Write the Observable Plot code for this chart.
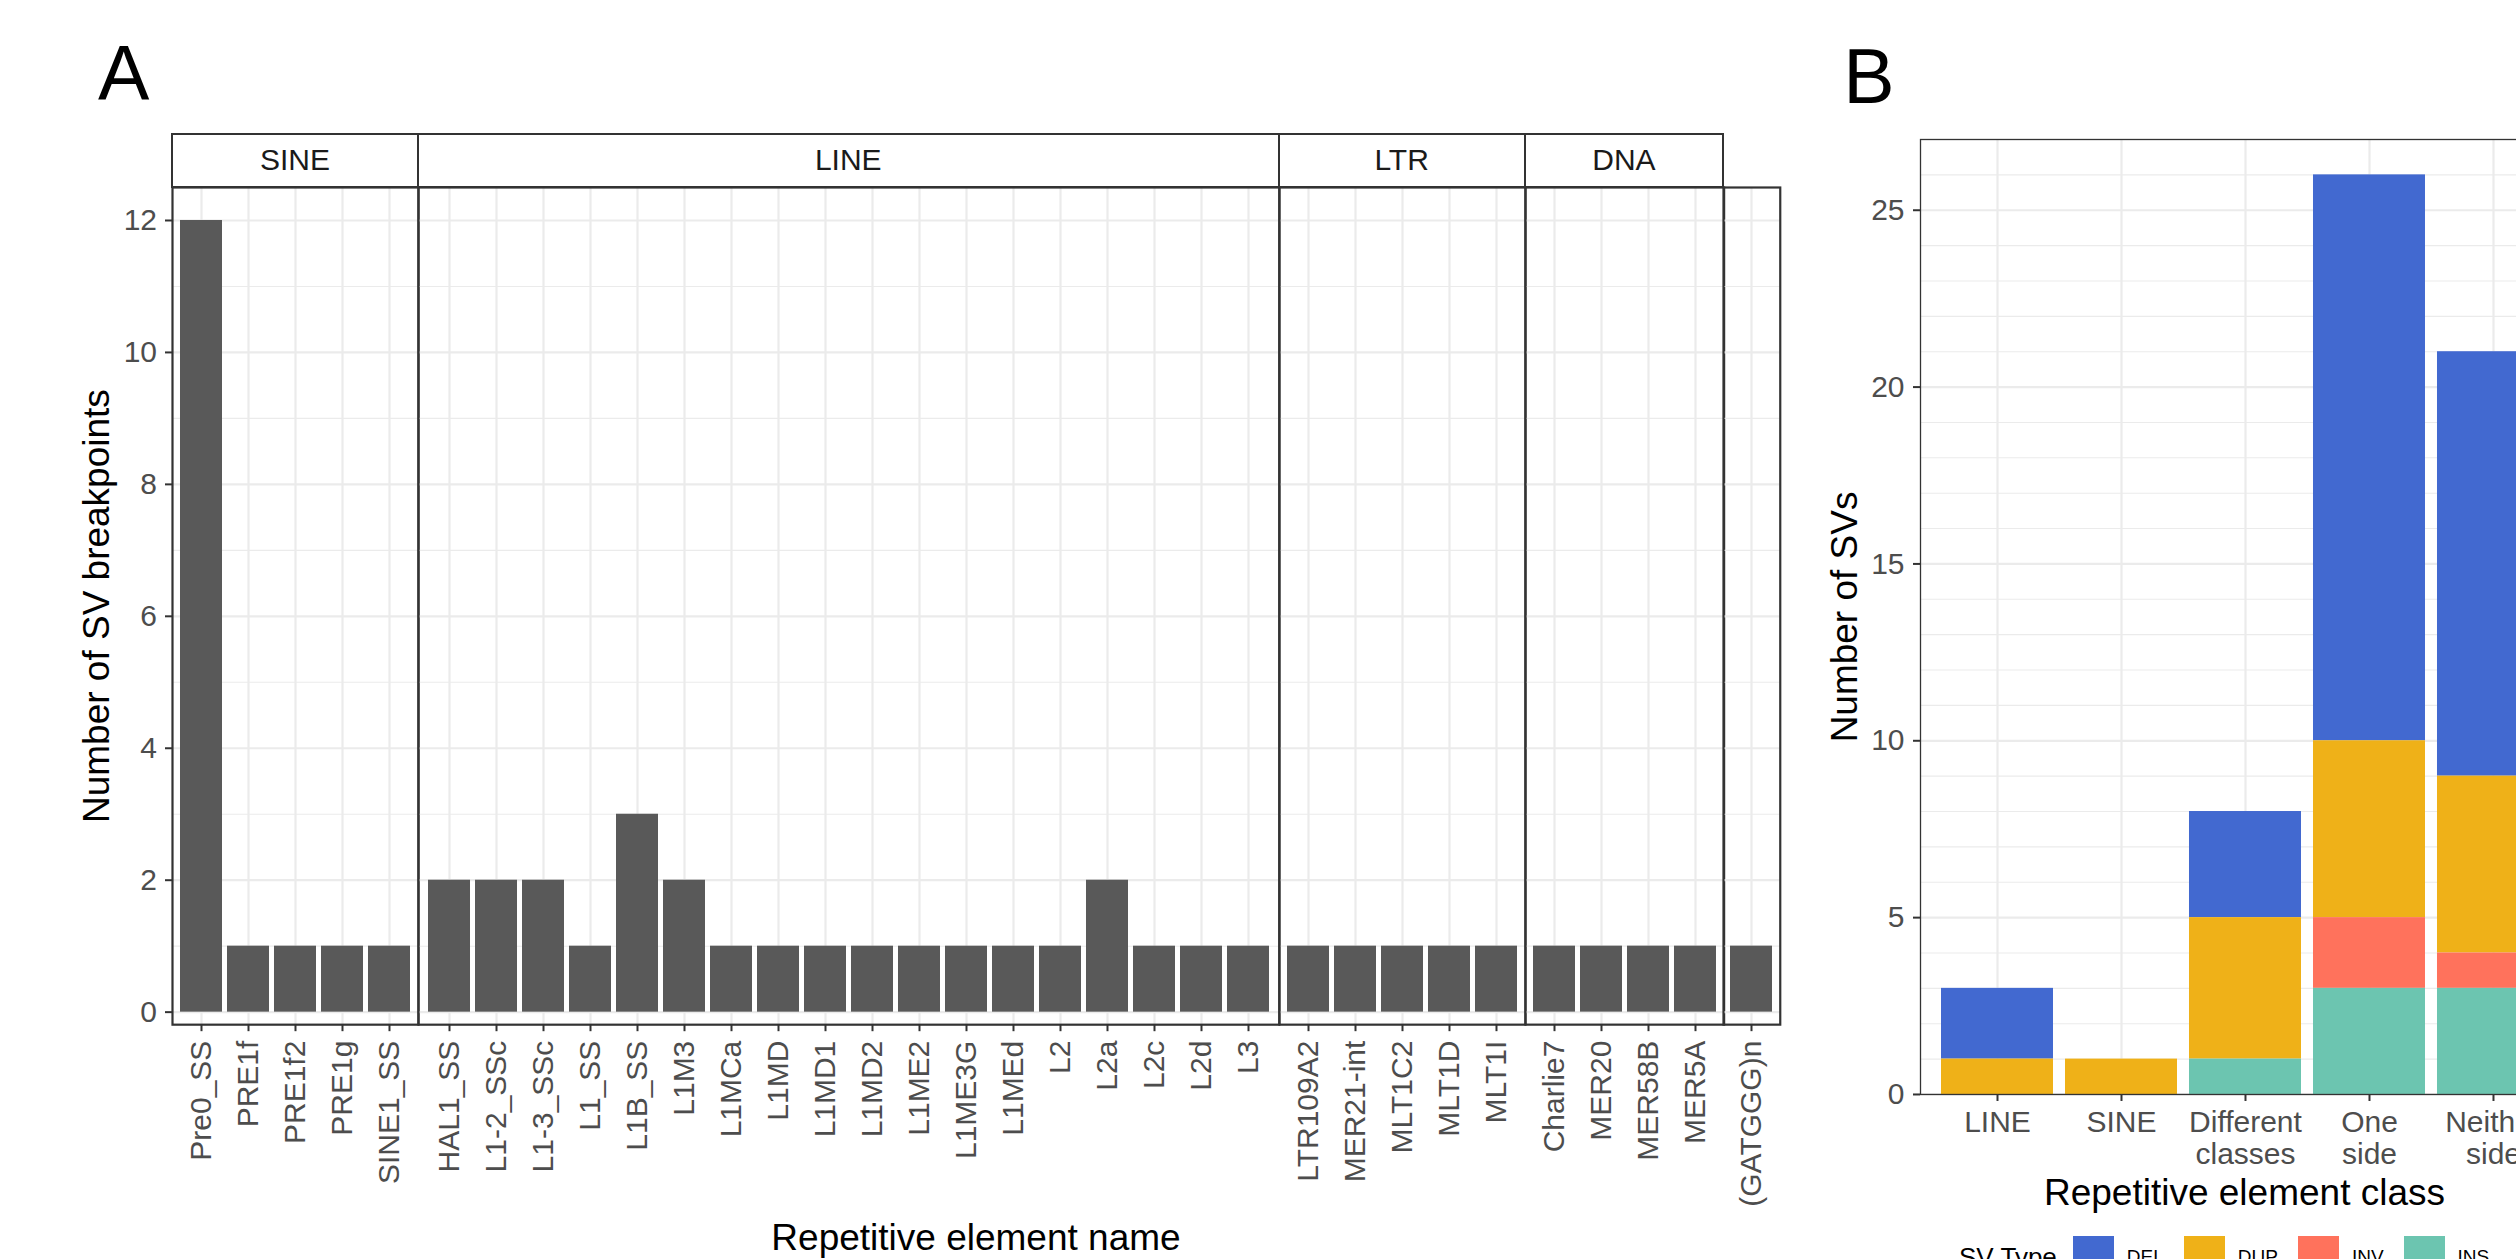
<!DOCTYPE html>
<html>
<head>
<meta charset="utf-8">
<script src="https://cdn.jsdelivr.net/npm/d3@7"></script>
<script src="https://cdn.jsdelivr.net/npm/@observablehq/plot@0.6"></script>
<style>
html, body { margin: 0; padding: 0; background: #ffffff; }
#root { position: relative; width: 2516px; height: 1259px; overflow: hidden; background: #ffffff;
  font-family: "Liberation Sans", Arial, Helvetica, sans-serif; }
.abs { position: absolute; white-space: nowrap; }
</style>
</head>
<body>
<div id="root"></div>
<script>
// ---------------- Panel A data ----------------
const facetClasses = ["SINE", "LINE", "LTR", "DNA", ""];
const elementNames = [
  "Pre0_SS", "PRE1f", "PRE1f2", "PRE1g", "SINE1_SS",
  "HAL1_SS", "L1-2_SSc", "L1-3_SSc", "L1_SS", "L1B_SS", "L1M3", "L1MCa", "L1MD", "L1MD1", "L1MD2",
  "L1ME2", "L1ME3G", "L1MEd", "L2", "L2a", "L2c", "L2d", "L3",
  "LTR109A2", "MER21-int", "MLT1C2", "MLT1D", "MLT1I",
  "Charlie7", "MER20", "MER58B", "MER5A",
  "(GATGGG)n"
];
const elementClass = [
  "SINE", "SINE", "SINE", "SINE", "SINE",
  "LINE", "LINE", "LINE", "LINE", "LINE", "LINE", "LINE", "LINE", "LINE", "LINE",
  "LINE", "LINE", "LINE", "LINE", "LINE", "LINE", "LINE", "LINE",
  "LTR", "LTR", "LTR", "LTR", "LTR",
  "DNA", "DNA", "DNA", "DNA",
  ""
];
const breakpoints = [
  12, 1, 1, 1, 1,
  2, 2, 2, 1, 3, 2, 1, 1, 1, 1,
  1, 1, 1, 1, 2, 1, 1, 1,
  1, 1, 1, 1, 1,
  1, 1, 1, 1,
  1
];
const yTicksA = [0, 2, 4, 6, 8, 10, 12];
const yMinorA = [1, 3, 5, 7, 9, 11];
const yTitleA = "Number of SV breakpoints";
const xTitleA = "Repetitive element name";

// ---------------- Panel B data ----------------
const svClasses = ["LINE", "SINE", "Different\nclasses", "One\nside", "Neither\nside"];
const svTypes = ["DEL", "DUP", "INV", "INS"];
const svColors = ["#4269d0", "#efb118", "#ff725c", "#6cc5b0"];
const delCounts = [2, 0, 3, 16, 12];
const dupCounts = [1, 1, 4, 5, 5];
const invCounts = [0, 0, 0, 2, 1];
const insCounts = [0, 0, 1, 3, 3];
const yTicksB = [0, 5, 10, 15, 20, 25];
const yTitleB = "Number of SVs";
const xTitleB = "Repetitive element class";
const legendTitle = "SV Type";

// ---------------- helpers ----------------
const root = document.getElementById("root");
const FONT = "'Liberation Sans', Arial, Helvetica, sans-serif";
const SVG_STYLE = `background: transparent; overflow: visible; max-width: none; font-family: ${FONT};`;
const GRID = "#EBEBEB";
const DARK = "#333333";
const TICKTXT = "#4D4D4D";
const intFmt = d => String(d);

function addText(txt, {x, baseline, size, color = "#000000", anchor = "start"}) {
  const d = document.createElement("div");
  d.className = "abs";
  d.textContent = txt;
  d.style.fontSize = size + "px";
  d.style.lineHeight = size + "px";
  d.style.color = color;
  d.style.top = (baseline - 0.8465 * size) + "px";
  d.style.left = x + "px";
  if (anchor === "middle") d.style.transform = "translateX(-50%)";
  root.appendChild(d);
  return d;
}
function place(svg, left, top) {
  const w = document.createElement("div");
  w.className = "abs";
  w.style.left = left + "px";
  w.style.top = top + "px";
  w.appendChild(svg);
  root.appendChild(w);
}

// ---------------- Panel A ----------------
const A = {left: 172, right: 1780, top: 187, bottom: 1024.2, stripTop: 134};
const unitA = (A.right - A.left) / (elementNames.length + 0.2 * facetClasses.length);
let cursor = A.left;
facetClasses.forEach((cls, fi) => {
  const names = elementNames.filter((n, i) => elementClass[i] === cls);
  const rows = names.map(n => ({name: n, value: breakpoints[elementNames.indexOf(n)]}));
  const pw = (names.length + 0.2) * unitA;
  const mL = fi === 0 ? A.left : 3, mR = 3, mT = 3, mB = 230;
  const marks = [
    Plot.gridY(yMinorA, {stroke: GRID, strokeOpacity: 1, strokeWidth: 1.1}),
    Plot.gridY(yTicksA, {stroke: GRID, strokeOpacity: 1, strokeWidth: 2.2}),
    Plot.gridX(names, {stroke: GRID, strokeOpacity: 1, strokeWidth: 2.2}),
    Plot.barY(rows, {x: "name", y: "value", fill: "#595959"}),
    Plot.frame({stroke: DARK, strokeWidth: 2.2}),
    Plot.axisX({tickRotate: -90, tickSize: 7, tickPadding: 9, fontSize: 30, textAnchor: "end",
      lineAnchor: "middle", stroke: DARK, fill: TICKTXT, strokeWidth: 2, label: null})
  ];
  if (fi === 0) {
    marks.push(
      Plot.axisY(yTicksA, {tickSize: 7, tickPadding: 8.5, fontSize: 30, stroke: DARK, fill: TICKTXT,
        strokeWidth: 2, label: null, tickFormat: intFmt}),
      Plot.text([yTitleA], {text: d => d, frameAnchor: "left", rotate: -90, dx: -63.5,
        lineAnchor: "bottom", textAnchor: "middle", fontSize: 37, fill: "#000000"})
    );
  }
  const svg = Plot.plot({
    width: mL + pw + mR,
    height: mT + (A.bottom - A.top) + mB,
    marginLeft: mL, marginRight: mR, marginTop: mT, marginBottom: mB,
    x: {type: "band", domain: names, paddingInner: 0.1, paddingOuter: 0.15, axis: null},
    y: {domain: [-0.19, 12.5], axis: null},
    style: SVG_STYLE,
    marks
  });
  place(svg, cursor - mL, A.top - mT);
  if (cls) {
    const s = document.createElement("div");
    s.className = "abs";
    s.textContent = cls;
    Object.assign(s.style, {
      left: (cursor - 1.1) + "px", top: (A.stripTop - 1.1) + "px",
      width: (pw + 2.2) + "px", height: (A.top - A.stripTop + 2.2) + "px",
      boxSizing: "border-box", border: `2.2px solid ${DARK}`, background: "#ffffff",
      display: "flex", alignItems: "center", justifyContent: "center",
      fontSize: "30px", lineHeight: "30px", color: "#1A1A1A"
    });
    root.appendChild(s);
  }
  cursor += pw;
});
addText(xTitleA, {x: (A.left + A.right) / 2, baseline: 1250, size: 37, anchor: "middle"});
addText("A", {x: 98, baseline: 100, size: 77});

// ---------------- Panel B ----------------
const B = {left: 1920.15, top: 138.5, bottom: 1093.5, unit: 124.75};
const countsByType = {DEL: delCounts, DUP: dupCounts, INV: invCounts, INS: insCounts};
const rowsB = [];
svClasses.forEach((c, i) => svTypes.forEach(t => {
  if (countsByType[t][i] > 0) rowsB.push({cls: c, type: t, count: countsByType[t][i]});
}));
const pwB = (svClasses.length + 0.2) * B.unit;
{
  const mL = 100, mR = 3, mT = 3, mB = 120;
  const svg = Plot.plot({
    width: mL + pwB + mR,
    height: mT + (B.bottom - B.top) + mB,
    marginLeft: mL, marginRight: mR, marginTop: mT, marginBottom: mB,
    x: {type: "band", domain: svClasses, paddingInner: 0.1, paddingOuter: 0.15, axis: null},
    y: {domain: [0, 27], axis: null},
    color: {domain: svTypes, range: svColors},
    style: SVG_STYLE,
    marks: [
      Plot.gridY(d3.range(1, 27).filter(v => v % 5 !== 0), {stroke: GRID, strokeOpacity: 1, strokeWidth: 1.1}),
      Plot.gridY(yTicksB, {stroke: GRID, strokeOpacity: 1, strokeWidth: 2.2}),
      Plot.gridX(svClasses, {stroke: GRID, strokeOpacity: 1, strokeWidth: 2.2}),
      Plot.barY(rowsB, {x: "cls", y: "count", fill: "type", order: ["INS", "INV", "DUP", "DEL"]}),
      Plot.frame({stroke: DARK, strokeWidth: 1.3}),
      Plot.axisX({tickSize: 7, tickPadding: 7, fontSize: 30, lineHeight: 1.083, stroke: DARK,
        fill: TICKTXT, strokeWidth: 2, label: null}),
      Plot.axisY(yTicksB, {tickSize: 7, tickPadding: 9, fontSize: 30, stroke: DARK, fill: TICKTXT,
        strokeWidth: 2, label: null, tickFormat: intFmt}),
      Plot.text([yTitleB], {text: d => d, frameAnchor: "left", rotate: -90, dx: -63.5,
        lineAnchor: "bottom", textAnchor: "middle", fontSize: 37, fill: "#000000"})
    ]
  });
  place(svg, B.left - mL, B.top - mT);
}
addText(xTitleB, {x: B.left + pwB / 2, baseline: 1205, size: 37, anchor: "middle"});
addText("B", {x: 1843.3, baseline: 103.3, size: 77});

// ---------------- Legend (below panel B) ----------------
{
  const lg = document.createElement("div");
  lg.className = "abs";
  Object.assign(lg.style, {left: "1959px", top: "1236px", height: "41px", display: "flex", alignItems: "center"});
  const title = document.createElement("span");
  title.textContent = legendTitle;
  Object.assign(title.style, {fontSize: "26px", lineHeight: "26px", color: "#000", marginRight: "16px"});
  lg.appendChild(title);
  svTypes.forEach((t, i) => {
    const sw = document.createElement("span");
    Object.assign(sw.style, {display: "inline-block", width: "41px", height: "41px", background: svColors[i], marginRight: "13px"});
    const lab = document.createElement("span");
    lab.textContent = t;
    Object.assign(lab.style, {fontSize: "19px", lineHeight: "19px", color: "#000", marginRight: "20px"});
    lg.appendChild(sw);
    lg.appendChild(lab);
  });
  root.appendChild(lg);
}
</script>
</body>
</html>
